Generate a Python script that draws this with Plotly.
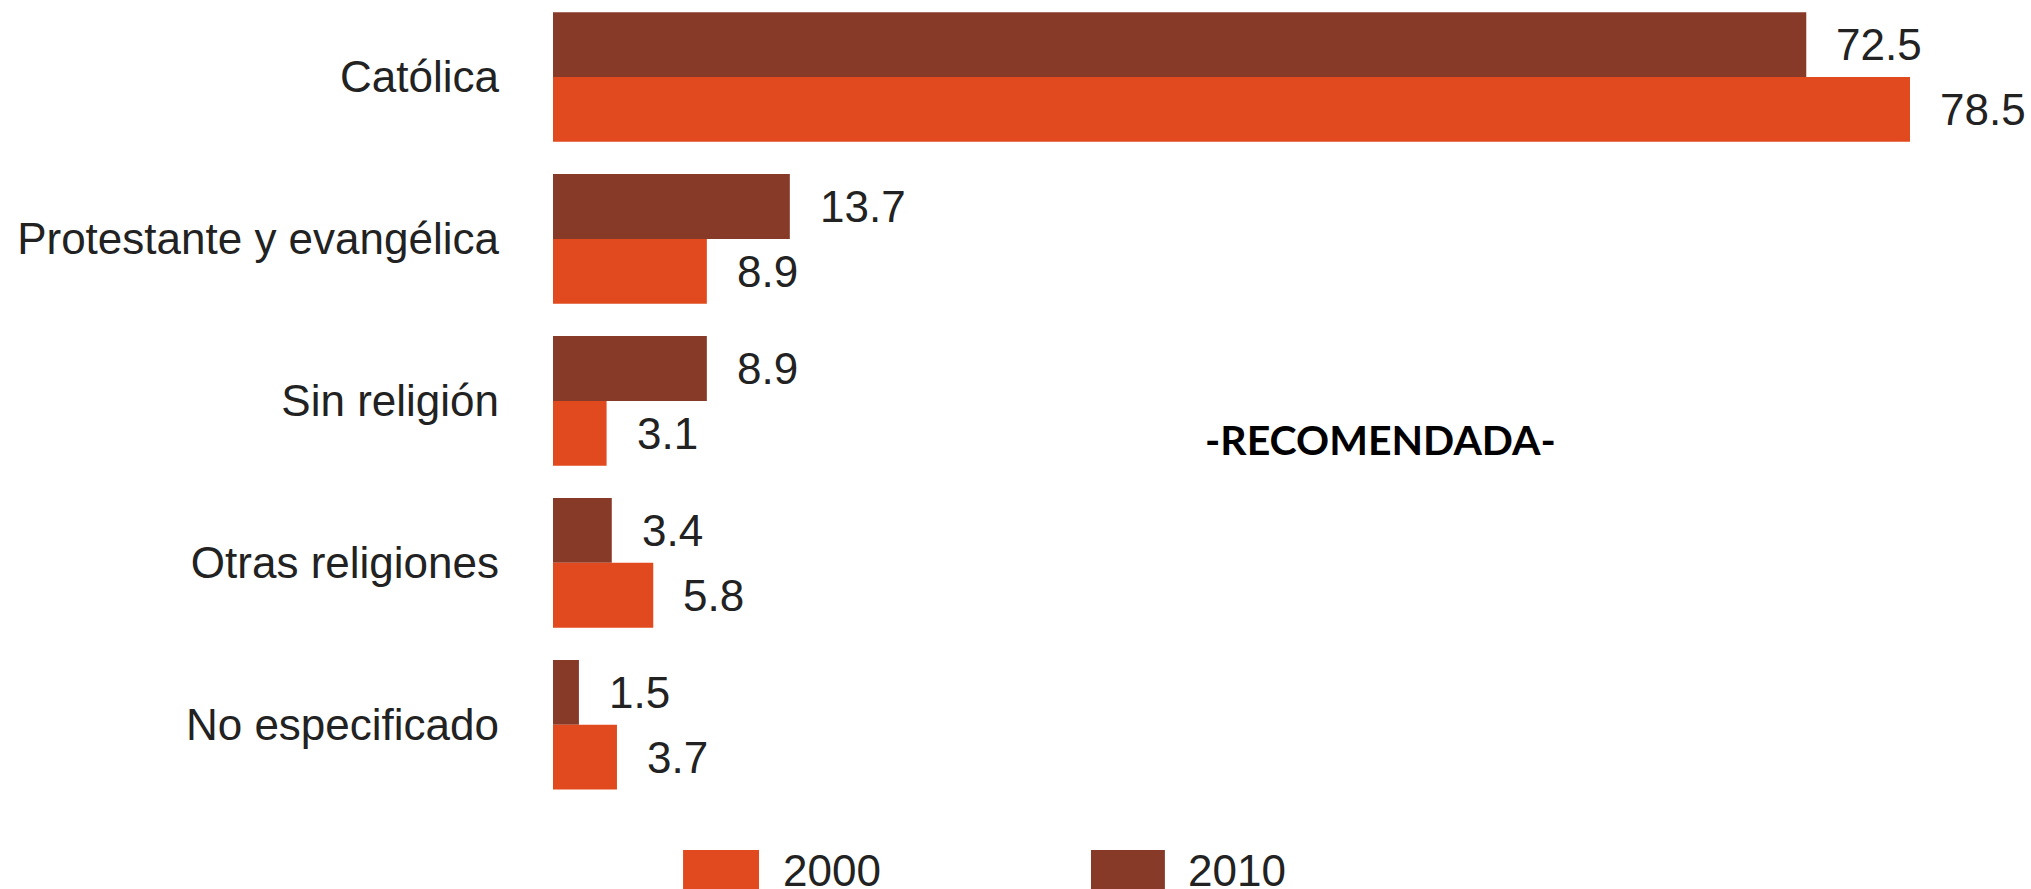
import plotly.graph_objects as go

# Distribución de la población por religión (%)
categorias = ["Católica", "Protestante y evangélica", "Sin religión",
              "Otras religiones", "No especificado"]
valores_2010 = [72.5, 13.7, 8.9, 3.4, 1.5]
valores_2000 = [78.5, 8.9, 3.1, 5.8, 3.7]
anios = ["2000", "2010"]

COLOR_2000 = "#E04A1E"
COLOR_2010 = "#873A28"
TEXTO = "#222222"
FUENTE = "Liberation Sans, Arial, sans-serif"
TAM = 44

fig = go.Figure()
fig.add_trace(go.Bar(name=anios[1], y=categorias, x=valores_2010, orientation="h",
                     marker=dict(color=COLOR_2010, line=dict(width=0)),
                     showlegend=False))
fig.add_trace(go.Bar(name=anios[0], y=categorias, x=valores_2000, orientation="h",
                     marker=dict(color=COLOR_2000, line=dict(width=0)),
                     showlegend=False))

# Etiquetas de valor a la derecha de cada barra
for cat, v10, v00 in zip(categorias, valores_2010, valores_2000):
    for val, dy in ((v10, 32.4), (v00, -32.4)):
        fig.add_annotation(x=val, y=cat, xref="x", yref="y", text=f"{val:.1f}",
                           showarrow=False, xanchor="left", yanchor="middle",
                           xshift=28, yshift=dy,
                           font=dict(family=FUENTE, size=TAM, color=TEXTO))

fig.add_annotation(x=0.5602, y=0.4650, xref="paper", yref="paper",
                   text="<b>-RECOMENDADA-</b>", showarrow=False,
                   xanchor="center", yanchor="middle",
                   font=dict(family="Lato, sans-serif", size=41, color="#000000"))

# Leyenda dibujada a mano con muestras grandes
leyenda = [(anios[0], COLOR_2000, 0.0880, 0.1394, 0.1545),
           (anios[1], COLOR_2010, 0.3640, 0.4140, 0.4280)]
for etiqueta, color, x0, x1, xt in leyenda:
    fig.add_shape(type="rect", xref="paper", yref="paper",
                  x0=x0, x1=x1, y0=-0.0949, y1=-0.0341,
                  fillcolor=color, line=dict(width=0))
    fig.add_annotation(x=xt, y=-0.0590, xref="paper", yref="paper",
                       text=etiqueta, showarrow=False,
                       xanchor="left", yanchor="middle",
                       font=dict(family=FUENTE, size=TAM, color=TEXTO))

fig.update_layout(
    width=2031, height=889,
    margin=dict(l=553, r=0, t=0, b=67),
    barmode="group", bargap=0.2, bargroupgap=0,
    plot_bgcolor="white", paper_bgcolor="white",
    font=dict(family=FUENTE, size=TAM, color=TEXTO),
)
fig.update_xaxes(range=[0, 85.5], visible=False, showgrid=False, zeroline=False)
fig.update_yaxes(range=[4.6, -0.475], showgrid=False, zeroline=False,
                 showline=False, ticks="", ticklabelstandoff=53,
                 tickfont=dict(family=FUENTE, size=TAM, color=TEXTO))

fig.write_html("out.html")
